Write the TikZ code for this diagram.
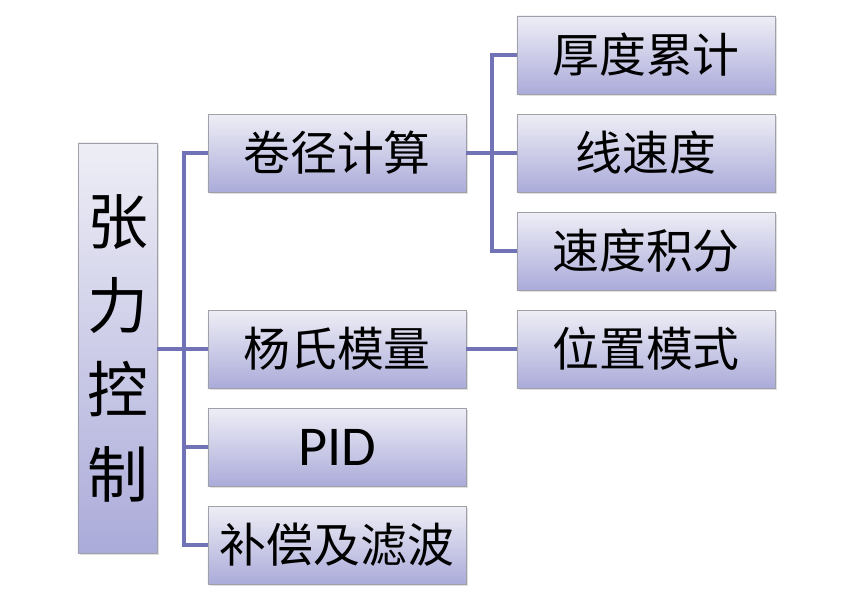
\documentclass[tikz,border=0pt]{standalone}
\usepackage{fontspec}
\usepackage{xcolor}
\usetikzlibrary{shadows}
\newfontfamily\cjk{Noto Sans CJK SC}
\newfontfamily\latinsf{Carlito}
\definecolor{boxtop}{HTML}{EEEEF6}
\definecolor{boxbottom}{HTML}{ABABDA}
\definecolor{boxline}{HTML}{A0A0A8}
\definecolor{linkblue}{HTML}{7272B6}
\tikzstyle{block} = [rectangle, minimum width=7.74cm, minimum height=2.34cm,
                     text centered, draw=boxline, line width=0.6pt,
                     top color=boxtop, bottom color=boxbottom,
                     drop shadow={opacity=0.25, shadow xshift=1.5pt, shadow yshift=-1.5pt},
                     font=\cjk\fontsize{40}{44}\selectfont, inner sep=0pt]
\tikzstyle{rootblock} = [block, minimum width=2.37cm, minimum height=12.3cm,
                         text width=2.37cm, align=center,
                         font=\cjk\fontsize{52}{72}\selectfont]
\tikzstyle{link} = [draw=linkblue, line width=3pt]

\begin{document}
\begin{tikzpicture}[x=0.03cm, y=-0.03cm]
    \useasboundingbox (0,0) rectangle (854,614);

    \node[rootblock] (tension) at (117.5,348) {张\\力\\控\\制};

    \node[block] (diameter) at (337,153) {卷径计算};
    \node[block] (modulus) at (337,349) {杨氏模量};
    \node[block, font=\latinsf\fontsize{48}{52}\selectfont] (pid) at (337,447) {PID};
    \node[block] (compensate) at (337,545) {补偿及滤波};

    \node[block] (thickness) at (646,55) {厚度累计};
    \node[block] (linespeed) at (646,153) {线速度};
    \node[block] (integral) at (646,251) {速度积分};
    \node[block] (position) at (646,349) {位置模式};

    \coordinate (trunk) at (184,349);
    \coordinate (branch) at (492,153);

    \draw[link] (tension.east |- trunk) -- (trunk);
    \draw[link] (diameter.west) -| (trunk |- diameter.west) -- (trunk |- compensate.west) -- (compensate.west);
    \draw[link] (modulus.west) -- (trunk |- modulus.west);
    \draw[link] (pid.west) -- (trunk |- pid.west);

    \draw[link] (diameter.east) -- (branch);
    \draw[link] (thickness.west) -- (branch |- thickness.west) -- (branch |- integral.west) -- (integral.west);
    \draw[link] (linespeed.west) -- (branch);
    \draw[link] (modulus.east) -- (position.west);
\end{tikzpicture}
\end{document}
